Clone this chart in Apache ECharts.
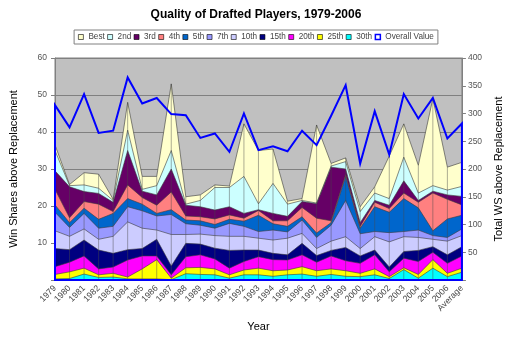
<!DOCTYPE html>
<html><head><meta charset="utf-8">
<script src="https://cdn.jsdelivr.net/npm/echarts@6/dist/echarts.min.js"></script>
<style>html,body{margin:0;padding:0;background:#fff}#c{width:512px;height:337px}</style>
</head><body><div id="c"></div>
<script>
const years = ['1979','1980','1981','1982','1983','1984','1985','1986','1987','1988','1989','1990','1991','1992','1993','1994','1995','1996','1997','1998','1999','2000','2001','2002','2003','2004','2005','2006','Average'];
const best   = [36.5,25.8,29,28.6,21.8,48,28,28,53,22.5,23,25.7,25.4,42.2,35,35.4,21.3,22,41.9,31.5,33,19.8,25.2,33.5,42.2,31,49,30.5,31.8];
const second = [35,25.5,25.7,24.8,21.5,40.5,24.5,25.5,35,20.5,21.5,25,25,28,20.6,26.1,20.5,21.5,20.8,30.8,32,18.5,23.5,22,33.2,23.5,25.5,24.3,25.3];
const third  = [29.5,25.2,23.9,23.4,21,35,24,23,30,20.2,19.8,18.9,19.8,18,19,18,17.2,21.2,20.6,30.5,30,15.5,21.5,20.2,26.8,21.5,24,23,22.6];
const fourth = [24.5,16.8,21.2,20.5,18.5,25.7,22.3,20.2,23.8,17.3,17.1,16.5,17.6,16.7,18.8,16,16,19.6,16.7,16,28.5,14.5,21,19.3,23.5,21,23.5,21.8,20.3];
const fifth  = [20.3,15.5,19.4,16.4,18,22,20.5,18,19,16.2,16,15,16.4,15.9,17.5,15.2,14.5,17.1,12.7,15.5,28,14,19.8,18.3,22,19.5,13.3,16.5,17.5];
const seventh= [18.3,14.2,18,14,14.5,19.8,18.7,17.3,17.7,15.2,14.8,14,15.3,14.5,13.1,13.5,13,16.2,11.5,14.8,21.5,12.5,13.1,12.8,13.1,13.5,12,11.5,13.8];
const tenth  = [13.3,11.8,13.8,11,11.8,15.7,14,13.5,12.3,12.3,12.4,12,11.8,11.8,11.3,10.8,11.3,12.6,8.5,10.5,11.7,8.5,11.7,10.3,11.7,11.5,11,10.5,12];
const fifteenth=[8.5,8.2,10.8,8.1,7.2,8.2,8.5,11,3.8,9.9,9.7,8.6,8,8.1,8.1,7.2,6.8,9.9,6.6,8,8.8,6.5,8.1,3.5,7.7,8,9,6.8,9];
const twentieth=[3.6,4.8,6.5,3,3.5,5.4,6.5,6.5,1.4,6.3,6.8,5.7,3.2,5,6.3,5.5,5.4,6.8,4.8,6.5,5.2,4.5,6.8,2.2,5.9,5,7.5,4.5,6.5];
const twentyfifth=[1.5,2.2,3.2,1.4,1.8,0.8,3,5.5,0.5,3.3,3.4,3,1.4,2.7,3.2,2.5,2.7,3.6,2.5,3,2.5,1.8,3,0.9,3.3,1.5,5.5,1.8,3.2];
const thirtieth=[0.3,0.4,1.6,0.7,0.8,0.3,0.3,0.3,0.1,1.7,1.5,1.4,0.5,1.4,1.4,1,1.4,1.6,1,1.5,1,0.9,1.4,0.4,2.8,0.5,3.2,0.9,2.1];
const overall = [315,275,335,265,269,365,318,328,299,297,256,264,231,300,234,241,232,269,243,296,351,210,304,226,335,291,328,255,282];
const leftTicks = [0,10,20,30,40,50,60];
const rightTicks = [0,50,100,150,200,250,300,350,400];

const layers = [
  ['Best', best, '#FFFFCC'],
  ['2nd', second, '#CCFFFF'],
  ['3rd', third, '#660066'],
  ['4th', fourth, '#FF8080'],
  ['5th', fifth, '#0066CC'],
  ['7th', seventh, '#9999FF'],
  ['10th', tenth, '#CCCCFF'],
  ['15th', fifteenth, '#000080'],
  ['20th', twentieth, '#FF00FF'],
  ['25th', twentyfifth, '#FFFF00'],
  ['30th', thirtieth, '#00FFFF']
];

const series = layers.map(([name, data, color]) => ({
  name, type: 'line', data, symbol: 'none', xAxisIndex: 0, yAxisIndex: 0,
  z: 2,
  lineStyle: {color: '#3a3a3a', width: 0.6},
  areaStyle: {color, opacity: 1},
  itemStyle: {color},
  emphasis: {disabled: true}
}));

series.push({
  name: 'drop', type: 'custom', xAxisIndex: 0, yAxisIndex: 0, z: 3,
  data: best.map((v, i) => [i, v]),
  renderItem: function (params, api) {
    const t = api.coord([api.value(0), api.value(1)]);
    const b = api.coord([api.value(0), 0]);
    return {type: 'line', shape: {x1: t[0], y1: t[1], x2: b[0], y2: b[1]},
      style: {stroke: 'rgba(70,70,70,0.45)', lineWidth: 1}};
  },
  silent: true
});

// Overall Value: outlined (unfilled) area on the secondary axis, Excel style
series.push({
  name: 'Overall Value', type: 'custom', xAxisIndex: 0, yAxisIndex: 1, z: 5,
  data: [[0, overall[0]]],
  renderItem: function (params, api) {
    const pts = [api.coord([0, 0])];
    overall.forEach((v, i) => pts.push(api.coord([i, v])));
    pts.push(api.coord([overall.length - 1, 0]));
    return {type: 'polygon', shape: {points: pts},
      style: {fill: 'none', stroke: '#0000FF', lineWidth: 2, lineJoin: 'miter'}};
  },
  itemStyle: {color: '#0000FF'},
  silent: true
});

const legendData = layers.map(([name, , color]) => ({
  name, icon: 'rect', itemStyle: {color, borderColor: '#000', borderWidth: 0.6}
}));
legendData.push({name: 'Overall Value', icon: 'rect', itemStyle: {color: '#fff', borderColor: '#0000FF', borderWidth: 1.5}});

const chart = echarts.init(document.getElementById('c'), null, {renderer: 'canvas'});
chart.setOption({
  animation: false,
  backgroundColor: '#fff',
  title: {
    text: 'Quality of Drafted Players, 1979-2006', left: 'center', top: 4,
    textStyle: {fontFamily: 'Arial, Liberation Sans', fontSize: 12, fontWeight: 'bold', color: '#000'}
  },
  legend: {
    data: legendData, left: 'center', top: 30, itemWidth: 5, itemHeight: 5, itemGap: 2.5,
    padding: [3, 4], borderColor: '#808080', borderWidth: 1, backgroundColor: '#fff',
    textStyle: {fontFamily: 'Arial, Liberation Sans', fontSize: 8.2, color: '#444'},
    selectedMode: false
  },
  grid: {left: 53, right: 39, top: 58, bottom: 57, show: true, backgroundColor: '#C0C0C0', borderColor: '#808080', borderWidth: 1},
  xAxis: {
    type: 'category', data: years, boundaryGap: false,
    name: 'Year', nameLocation: 'middle', nameGap: 41,
    nameTextStyle: {fontFamily: 'Arial, Liberation Sans', fontSize: 11, color: '#000'},
    axisLine: {lineStyle: {color: '#808080', width: 1}},
    axisTick: {show: false},
    axisLabel: {rotate: 45, interval: 0, fontSize: 8.7, margin: 7, color: '#444', fontFamily: 'Arial, Liberation Sans'},
    splitLine: {show: false}
  },
  yAxis: [{
    type: 'value', min: leftTicks[0], max: leftTicks[leftTicks.length - 1], interval: 10,
    name: 'Win Shares above Replacement', nameLocation: 'middle', nameGap: 36, nameRotate: 90,
    nameTextStyle: {fontFamily: 'Arial, Liberation Sans', fontSize: 11, color: '#000'},
    axisLine: {show: true, lineStyle: {color: '#808080'}},
    axisTick: {show: true, length: 4, lineStyle: {color: '#808080'}},
    axisLabel: {fontSize: 8.5, color: '#555', margin: 8, fontFamily: 'Arial, Liberation Sans', formatter: v => v === 0 ? '' : v},
    splitLine: {show: true, lineStyle: {color: '#808080', width: 1}}
  }, {
    type: 'value', min: rightTicks[0], max: rightTicks[rightTicks.length - 1], interval: 50, position: 'right',
    name: 'Total WS above Replacement', nameLocation: 'middle', nameGap: 27, nameRotate: 90,
    nameTextStyle: {fontFamily: 'Arial, Liberation Sans', fontSize: 11, color: '#000'},
    axisLine: {show: true, lineStyle: {color: '#808080'}},
    axisTick: {show: true, length: 4, lineStyle: {color: '#808080'}},
    axisLabel: {fontSize: 8.5, color: '#555', margin: 6, fontFamily: 'Arial, Liberation Sans', formatter: v => v === 0 ? '' : v},
    splitLine: {show: false}
  }],
  series
});
</script></body></html>
